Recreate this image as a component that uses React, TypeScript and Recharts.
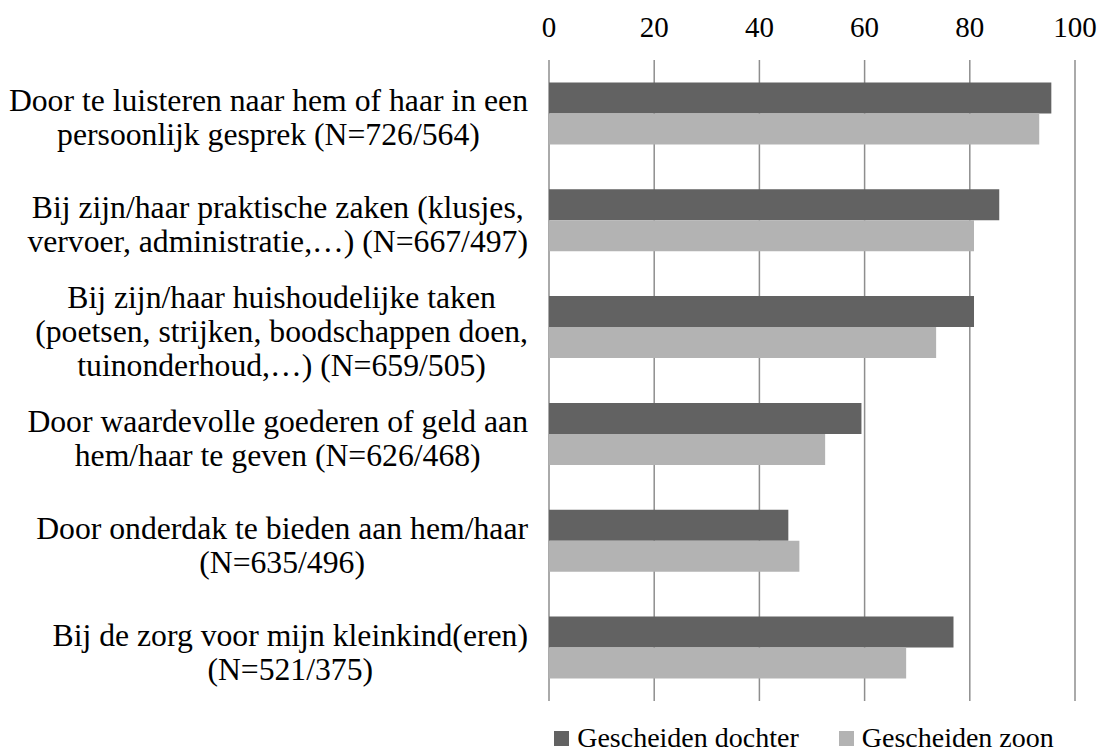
import React from 'react'
import { BarChart, Bar, XAxis, YAxis, CartesianGrid, Legend } from 'recharts'

const categories = [
  ['Door te luisteren naar hem of haar in een', 'persoonlijk gesprek (N=726/564)'],
  ['Bij zijn/haar praktische zaken (klusjes,', 'vervoer, administratie,…) (N=667/497)'],
  ['Bij zijn/haar huishoudelijke taken', '(poetsen, strijken, boodschappen doen,', 'tuinonderhoud,…) (N=659/505)'],
  ['Door waardevolle goederen of geld aan', 'hem/haar te geven (N=626/468)'],
  ['Door onderdak te bieden aan hem/haar', '(N=635/496)'],
  ['Bij de zorg voor mijn kleinkind(eren)', '(N=521/375)'],
]
const dochter = [95.5, 85.6, 80.8, 59.4, 45.5, 76.9]
const zoon = [93.2, 80.8, 73.6, 52.5, 47.6, 67.9]
const xTicks = [0, 20, 40, 60, 80, 100]

const series = [
  { key: 'dochter', name: 'Gescheiden dochter', color: '#626262' },
  { key: 'zoon', name: 'Gescheiden zoon', color: '#b3b3b3' },
]

const data = categories.map((lines, i) => ({
  label: lines.join('\n'),
  dochter: dochter[i],
  zoon: zoon[i],
}))

const FONT = "'Liberation Serif', 'Times New Roman', serif"
const LABEL_SIZE = 31.7
const LINE_H = 34

let ctx: CanvasRenderingContext2D | null = null
function textWidth(s: string, size: number) {
  if (!ctx) ctx = document.createElement('canvas').getContext('2d')
  if (!ctx) return s.length * size * 0.45
  ctx.font = `${size}px ${FONT}`
  return ctx.measureText(s).width
}

function CategoryTick(props: any) {
  const { y, payload } = props
  const lines: string[] = String(payload.value).split('\n')
  const maxW = Math.max(...lines.map((l) => textWidth(l, LABEL_SIZE)))
  const cx = 528 - maxW / 2
  const n = lines.length
  return (
    <g>
      {lines.map((l, i) => (
        <text
          key={i}
          x={cx}
          y={y + 5 + (i - (n - 1) / 2) * LINE_H + 10}
          textAnchor="middle"
          fontFamily={FONT}
          fontSize={LABEL_SIZE}
          fill="#000"
        >
          {l}
        </text>
      ))}
    </g>
  )
}

function ValueTick(props: any) {
  const { x, payload } = props
  return (
    <text x={x} y={37} textAnchor="middle" fontFamily={FONT} fontSize={29} fill="#000">
      {payload.value}
    </text>
  )
}

function LegendContent() {
  return (
    <div
      style={{
        display: 'flex',
        justifyContent: 'center',
        gap: 40,
        fontFamily: FONT,
        fontSize: 28,
        lineHeight: '28px',
        color: '#000',
      }}
    >
      {series.map((s) => (
        <div key={s.key} style={{ display: 'flex', alignItems: 'center', gap: 8 }}>
          <div style={{ width: 15, height: 15, background: s.color }} />
          <span>{s.name}</span>
        </div>
      ))}
    </div>
  )
}

export default function App() {
  return (
    <div style={{ position: 'absolute', left: 0, top: 0, width: 1104, height: 751, background: '#fff' }}>
      <BarChart
        width={1104}
        height={751}
        data={data}
        layout="vertical"
        margin={{ top: 0, right: 29, bottom: 50, left: 0 }}
        barCategoryGap="21%"
        barGap={0}
      >
        <CartesianGrid horizontal={false} stroke="#8e8e8e" strokeWidth={1.5} />
        <XAxis
          type="number"
          orientation="top"
          domain={[0, 100]}
          ticks={xTicks}
          height={60}
          axisLine={false}
          tickLine={false}
          tick={<ValueTick />}
          interval={0}
        />
        <YAxis
          type="category"
          dataKey="label"
          width={549}
          axisLine={false}
          tickLine={false}
          tick={<CategoryTick />}
          interval={0}
        />
        <Legend
          verticalAlign="middle"
          align="center"
          layout="horizontal"
          wrapperStyle={{ top: 724, left: 541, width: 526 }}
          content={<LegendContent />}
        />
        {series.map((s) => (
          <Bar key={s.key} dataKey={s.key} name={s.name} fill={s.color} isAnimationActive={false} />
        ))}
      </BarChart>
    </div>
  )
}
